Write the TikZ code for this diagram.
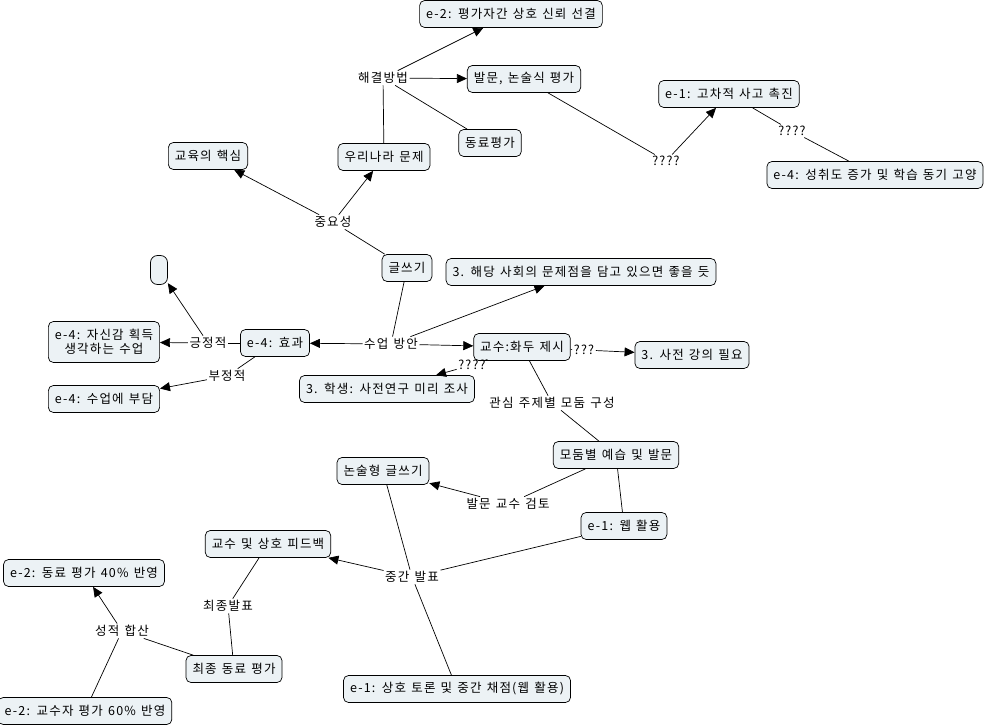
\documentclass[tikz,border=0pt]{standalone}
\usepackage{fontspec}
\setmainfont[WordSpace=1.3, LetterSpace=9.6]{Noto Sans CJK KR}
\usepackage{xcolor}
\usetikzlibrary{arrows.meta}
\definecolor{cmapfill}{RGB}{236,242,245}
\tikzset{
  concept/.style={draw, rounded corners=5pt, fill=cmapfill, line width=0.7pt, inner xsep=6.5pt, inner ysep=2pt, minimum height=27pt, font=\fontsize{12.5}{14}\selectfont},
  blankconcept/.style={concept, rounded corners=7pt, minimum width=17pt, minimum height=29pt},
  linkphrase/.style={inner sep=1.5pt, font=\fontsize{12.5}{14}\selectfont},
  arc/.style={-{Triangle[length=10pt, width=9pt]}, line width=0.7pt},
  plainarc/.style={line width=0.7pt}
}

\begin{document}
\begin{tikzpicture}[x=1pt, y=-1pt]
  \useasboundingbox (0,0) rectangle (988,727);

  % concepts
  \node[concept] (evaltrust) at (511,14) {e-2: 평가자간 상호 신뢰 선결};
  \node[concept] (essayeval) at (524,79) {발문, 논술식 평가};
  \node[concept] (peereval) at (490,143) {동료평가};
  \node[concept] (korprob) at (384,157) {우리나라 문제};
  \node[concept] (educore) at (208,156) {교육의 핵심};
  \node[concept] (higherthink) at (729,94) {e-1: 고차적 사고 촉진};
  \node[concept] (motivation) at (875,175) {e-4: 성취도 증가 및 학습 동기 고양};
  \node[concept] (writing) at (407,268) {글쓰기};
  \node[blankconcept] (blank) at (159,270) {};
  \node[concept] (socialprob) at (581,272) {3. 해당 사회의 문제점을 담고 있으면 좋을 듯};
  \node[concept, align=center, minimum height=41pt] (confidence) at (104,342) {e-4: 자신감 획득\\생각하는 수업};
  \node[concept] (effect) at (275,343) {e-4: 효과};
  \node[concept] (topic) at (522,347) {교수:화두 제시};
  \node[concept] (prelecture) at (692,355) {3. 사전 강의 필요};
  \node[concept] (preresearch) at (387,389) {3. 학생: 사전연구 미리 조사};
  \node[concept] (burden) at (104,399) {e-4: 수업에 부담};
  \node[concept] (groupprep) at (616,455) {모둠별 예습 및 발문};
  \node[concept] (essaywrite) at (383,471) {논술형 글쓰기};
  \node[concept] (webuse) at (624,526) {e-1: 웹 활용};
  \node[concept] (feedback) at (268,544) {교수 및 상호 피드백};
  \node[concept] (peer40) at (84,573) {e-2: 동료 평가 40\% 반영};
  \node[concept] (finalpeer) at (234,669) {최종 동료 평가};
  \node[concept] (midscore) at (457,689) {e-1: 상호 토론 및 중간 채점(웹 활용)};
  \node[concept] (prof60) at (85,711) {e-2: 교수자 평가 60\% 반영};

  % linking phrases
  \node[linkphrase] (lsolve) at (383,78) {해결방법};
  \node[linkphrase] (lqone) at (666,161) {????};
  \node[linkphrase] (lqtwo) at (792,131) {????};
  \node[linkphrase] (limport) at (333,222) {중요성};
  \node[linkphrase] (lmethod) at (391,344) {수업 방안};
  \node[linkphrase] (lpos) at (208,343) {긍정적};
  \node[linkphrase] (lneg) at (227,376) {부정적};
  \node[linkphrase] (lqthree) at (472,365) {????};
  \node[linkphrase] (lqfour) at (584,350) {???};
  \node[linkphrase] (lgroup) at (552,403) {관심 주제별 모둠 구성};
  \node[linkphrase] (lreview) at (508,504) {발문 교수 검토};
  \node[linkphrase] (lmid) at (412,577) {중간 발표};
  \node[linkphrase] (lfinal) at (228,606) {최종발표};
  \node[linkphrase] (lsum) at (122,631) {성적 합산};

  % connections
  \draw[plainarc] (korprob) -- (lsolve);
  \draw[arc] (lsolve) -- (evaltrust);
  \draw[arc] (lsolve) -- (essayeval);
  \draw[plainarc] (lsolve) -- (peereval);
  \draw[plainarc] (essayeval) -- (lqone);
  \draw[arc] (lqone) -- (higherthink);
  \draw[plainarc] (higherthink) -- (lqtwo);
  \draw[plainarc] (lqtwo) -- (motivation);
  \draw[plainarc] (writing) -- (limport);
  \draw[arc] (limport) -- (educore);
  \draw[arc] (limport) -- (korprob);
  \draw[plainarc] (writing) -- (lmethod);
  \draw[arc] (lmethod) -- (effect);
  \draw[arc] (lmethod) -- (socialprob);
  \draw[arc] (lmethod) -- (topic);
  \draw[plainarc] (effect) -- (lpos);
  \draw[arc] (lpos) -- (blank);
  \draw[arc] (lpos) -- (confidence);
  \draw[plainarc] (effect) -- (lneg);
  \draw[arc] (lneg) -- (burden);
  \draw[plainarc] (topic) -- (lqfour);
  \draw[arc] (lqfour) -- (prelecture);
  \draw[plainarc] (topic) -- (lqthree);
  \draw[arc] (lqthree) -- (preresearch);
  \draw[plainarc] (topic) -- (lgroup);
  \draw[plainarc] (lgroup) -- (groupprep);
  \draw[plainarc] (groupprep) -- (lreview);
  \draw[arc] (lreview) -- (essaywrite);
  \draw[plainarc] (groupprep) -- (webuse);
  \draw[plainarc] (essaywrite) -- (lmid);
  \draw[plainarc] (webuse) -- (lmid);
  \draw[arc] (lmid) -- (feedback);
  \draw[plainarc] (lmid) -- (midscore);
  \draw[plainarc] (finalpeer) -- (lfinal);
  \draw[plainarc] (lfinal) -- (feedback);
  \draw[plainarc] (finalpeer) -- (lsum);
  \draw[arc] (lsum) -- (peer40);
  \draw[plainarc] (prof60) -- (lsum);
\end{tikzpicture}
\end{document}
